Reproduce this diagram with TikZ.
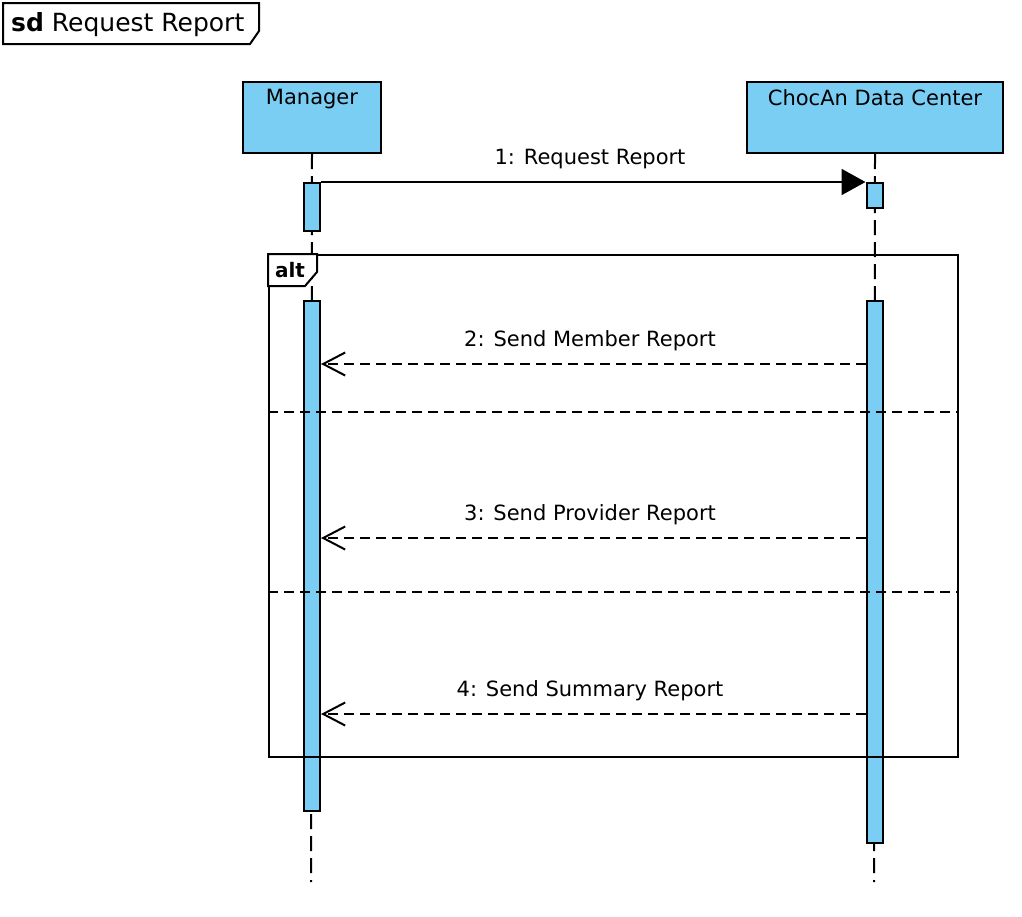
\documentclass[tikz,border=0pt]{standalone}
\usepackage{fontspec}
\setmainfont{DejaVu Sans}
\usetikzlibrary{arrows.meta}
\definecolor{actblue}{RGB}{122,206,244}
\tikzset{
  lifebox/.style={draw, fill=actblue, line width=2pt, anchor=north west, inner sep=0pt},
  boxlabel/.style={font=\fontsize{21}{24}\selectfont, anchor=north, inner sep=0pt, yshift=-8pt},
  lifeline/.style={line width=2pt, dash pattern=on 15pt off 7pt},
  actbar/.style={draw, fill=actblue, line width=2pt, minimum width=16pt, anchor=north, inner sep=0pt},
  msglabel/.style={font=\fontsize{21}{24}\selectfont, inner sep=0pt},
  syncmsg/.style={line width=2pt, -{Triangle[length=24pt,width=26pt]}},
  replymsg/.style={line width=2pt, dash pattern=on 10pt off 6pt, -{Straight Barb[length=22pt,width=23pt,line width=2pt]}},
  framebox/.style={draw, line width=2pt, anchor=north west, inner sep=0pt},
  separator/.style={line width=2pt, dash pattern=on 10pt off 6pt}
}
\begin{document}
\begin{tikzpicture}[x=1pt,y=-1pt]
\useasboundingbox (0,0) rectangle (1022,916);
% sd frame
\coordinate (sdA) at (3,3);
\draw[line width=2pt] (sdA) -- (259,3) -- (259,31) -- (250,44) -- (3,44) -- cycle;
\node[anchor=west, inner sep=0pt, font=\fontsize{25}{28}\selectfont] (sdlabel) at (11,25) {\textbf{sd} Request Report};
% lifeline heads
\node[lifebox, minimum width=138pt, minimum height=71pt] (mgr) at (242,81) {};
\node[boxlabel] (mgrlabel) at (mgr.north) {Manager};
\node[lifebox, minimum width=256pt, minimum height=71pt] (dc) at (746,81) {};
\node[boxlabel] (dclabel) at (dc.north) {ChocAn Data Center};
% lifelines
\coordinate (mgrend) at (311,882);
\coordinate (dcend) at (874,882);
\draw[lifeline] (mgr.south) -- (mgrend);
\draw[lifeline] (dc.south) -- (dcend);
% activation bars
\node[actbar, minimum height=48pt] (ma1) at (312,182) {};
\node[actbar, minimum height=25pt] (ca1) at (874.5,182) {};
\node[actbar, minimum height=510pt] (ma2) at (312,300) {};
\node[actbar, minimum height=542pt] (ca2) at (874.5,300) {};
% message 1
\draw[syncmsg] (ma1.north east) -- (ca1.north west);
\node[msglabel] (m1) at (590,159) {1: Request Report};
% replies
\coordinate (y2) at (0,364);
\coordinate (y3) at (0,538);
\coordinate (y4) at (0,714);
\draw[replymsg] (ca2.west |- y2) -- (ma2.east |- y2);
\node[msglabel] (m2) at (590,341) {2: Send Member Report};
\draw[replymsg] (ca2.west |- y3) -- (ma2.east |- y3);
\node[msglabel] (m3) at (590,515) {3: Send Provider Report};
\draw[replymsg] (ca2.west |- y4) -- (ma2.east |- y4);
\node[msglabel] (m4) at (590,691) {4: Send Summary Report};
% alt frame
\node[framebox, minimum width=689pt, minimum height=502pt] (altf) at (268,254) {};
\filldraw[fill=white, line width=2pt] (altf.north west) -- ++(49,0) -- ++(0,18) -- ++(-12,14) -- ++(-37,0) -- cycle;
\node[inner sep=0pt, font=\bfseries\fontsize{20}{22}\selectfont] (altlabel) at (290,270) {alt};
\coordinate (s1) at (0,412);
\coordinate (s2) at (0,592);
\draw[separator] (altf.west |- s1) -- (altf.east |- s1);
\draw[separator] (altf.west |- s2) -- (altf.east |- s2);
\end{tikzpicture}
\end{document}
